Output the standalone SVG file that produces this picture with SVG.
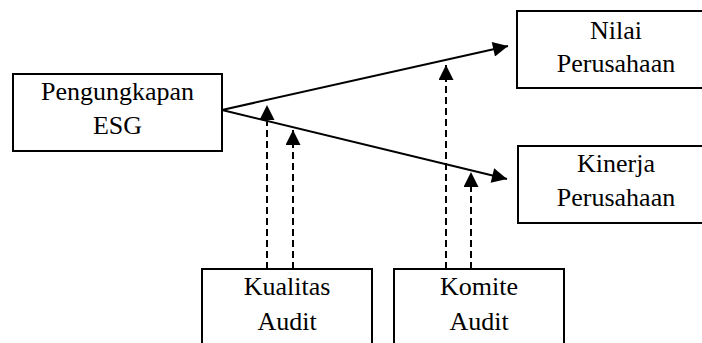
<svg xmlns="http://www.w3.org/2000/svg" width="702" height="343" viewBox="0 0 702 343">
<defs>
<style>
.box{fill:#fff;stroke:#000;stroke-width:2}
.t{font-size:26px;fill:#000;text-anchor:middle}
.solid{stroke:#000;stroke-width:2;fill:none}
.dash{stroke:#000;stroke-width:2;fill:none;stroke-dasharray:7 4}
</style>
<marker id="ah" viewBox="0 0 10 10" refX="10" refY="5" markerWidth="8.5" markerHeight="7.5" markerUnits="strokeWidth" orient="auto">
<path d="M0,0 L10,5 L0,10 z" fill="#000"/>
</marker>
</defs>
<rect width="702" height="343" fill="#fff"/>
<g id="connectors">
<line class="solid" x1="222" y1="110" x2="508" y2="46" marker-end="url(#ah)"/>
<line class="solid" x1="222" y1="110" x2="507" y2="179" marker-end="url(#ah)"/>
<line class="dash" x1="267" y1="269" x2="267" y2="105" marker-end="url(#ah)"/>
<line class="dash" x1="293" y1="269" x2="293" y2="130" marker-end="url(#ah)"/>
<line class="dash" x1="446" y1="269" x2="446" y2="65" marker-end="url(#ah)"/>
<line class="dash" x1="471" y1="269" x2="471" y2="172" marker-end="url(#ah)"/>
</g>
<g font-family="Liberation Serif, DejaVu Serif, serif">
<g id="node-esg">
<rect class="box" x="13" y="74" width="209" height="77"/>
<text class="t" x="117.5" y="100">Pengungkapan</text>
<text class="t" x="117.5" y="134">ESG</text>
</g>
<g id="node-nilai">
<rect class="box" x="517" y="11" width="198" height="77"/>
<text class="t" x="616" y="39">Nilai</text>
<text class="t" x="616" y="72">Perusahaan</text>
</g>
<g id="node-kinerja">
<rect class="box" x="518" y="146" width="198" height="77"/>
<text class="t" x="616" y="172">Kinerja</text>
<text class="t" x="616" y="206">Perusahaan</text>
</g>
<g id="node-kualitas">
<rect class="box" x="202" y="269" width="170" height="85"/>
<text class="t" x="287" y="295">Kualitas</text>
<text class="t" x="287" y="330">Audit</text>
</g>
<g id="node-komite">
<rect class="box" x="394" y="269" width="170" height="85"/>
<text class="t" x="479" y="295">Komite</text>
<text class="t" x="479" y="330">Audit</text>
</g>
</g>
</svg>
